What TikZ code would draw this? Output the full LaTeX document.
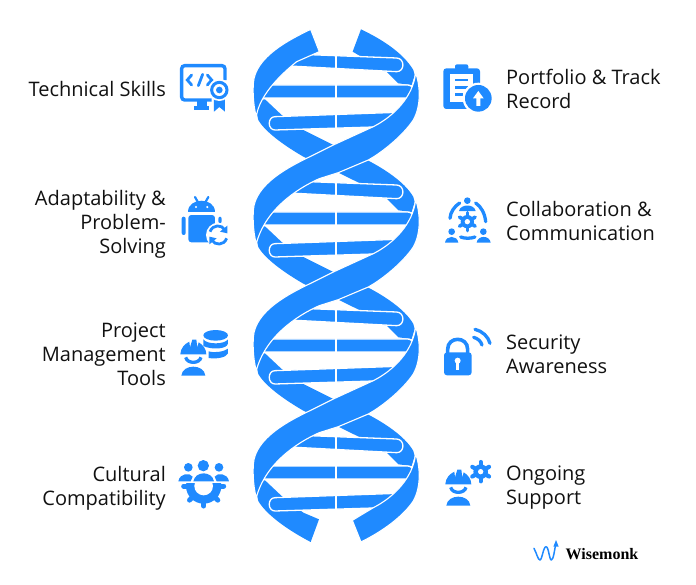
\documentclass[tikz,border=0pt]{standalone}
\usepackage{fontspec}
\usepackage{xcolor}
\setmainfont{Open Sans}
\newfontfamily\logofont{Liberation Serif}
\definecolor{dnablue}{RGB}{31, 138, 255}
\definecolor{labelblack}{RGB}{17, 17, 17}

% gear: centre x, centre y, body radius, tooth radius, tooth width, teeth, hole radius
\newcommand{\gearicon}[7]{
    \fill[dnablue] (#1,#2) circle[radius=#3];
    \foreach \a in {1,...,#6} {
        \draw[dnablue,line width=#5pt,line cap=round] (#1,#2) -- ({#1+#4*cos(90+360*\a/#6)},{#2+#4*sin(90+360*\a/#6)});
    }
    \fill[white] (#1,#2) circle[radius=#7];
}
% worker with helmet, same place in both icons
\newcommand{\workericon}{
    \fill[dnablue] (31,103) .. controls (31,85) and (45,71) .. (58,65) -- (60,82) -- (67,59) -- (79,59) -- (82,82) -- (86,67) .. controls (98,73) and (109,88) .. (109,103) -- cycle;
    \draw[dnablue,line width=3.3pt] (47,112) .. controls (52,132) and (88,132) .. (93,112);
    \fill[dnablue] (34,167) .. controls (37,131) and (103,131) .. (106,167) -- cycle;
}

\begin{document}
\begin{tikzpicture}[x=1pt,y=-1pt,
    lefttext/.style={anchor=east,align=right,inner sep=0pt,text=labelblack,font=\fontsize{20}{24}\selectfont},
    righttext/.style={anchor=west,align=left,inner sep=0pt,text=labelblack,font=\fontsize{20}{24}\selectfont},
    dnaunit/.style={x=0.3333pt,y=-0.3333pt},
    icon/.style={x=0.3333pt,y=-0.3333pt},
    backband/.style={fill=dnablue},
    frontband/.style={fill=dnablue,draw=white,line width=1.1pt,line join=round},
    rung/.style={fill=dnablue,draw=white,line width=1.3pt,line join=round},
    iconline/.style={dnablue,line width=3.3pt,line cap=round}]

    \useasboundingbox (0,0) rectangle (696,584);

    % Back strands
    \begin{scope}[shift={(240,20)},dnaunit]
        \fill[backband] (363,28) -- (338,95) -- (440,155) -- (475,190) -- (515,195) -- (524,165) -- (520,150) .. controls (490,100) and (430,60) .. (363,28) -- cycle;
    \end{scope}
    \foreach \k in {0,1,2} {
        \begin{scope}[shift={(240,20+127*\k)},dnaunit]
            \fill[backband] (60,240) -- (75,238) -- (125,285) -- (190,330) -- (280,375) -- (385,422) .. controls (450,456) and (500,495) .. (520,531) -- (524,546) -- (515,576) -- (475,571) -- (440,536) -- (360,490) -- (295,458) -- (190,410) .. controls (130,375) and (75,335) .. (55,300) -- (48,270) -- cycle;
        \end{scope}
    }
    \begin{scope}[shift={(240,401)},dnaunit]
        \fill[backband] (60,240) -- (75,238) -- (125,285) -- (190,335) -- (237,355) -- (212,423) .. controls (130,380) and (75,335) .. (55,300) -- (48,270) -- cycle;
    \end{scope}

    % Rungs
    \foreach \k in {0,1,2,3} {
        \begin{scope}[shift={(240,20+127*\k)},dnaunit]
            \draw[rung] (130,101) -- (470,114) .. controls (495,115) and (495,155) .. (470,155) -- (130,137) -- cycle;
            \draw[rung] (50,195) -- (503,195) .. controls (518,195) and (520,205) .. (518,234) -- (50,234) -- cycle;
            \draw[rung] (105,290) -- (500,276) -- (500,318) -- (105,330) .. controls (82,330) and (82,290) .. (105,290) -- cycle;
            \draw[white,line width=1.7pt] (288,100) -- (288,332);
        \end{scope}
    }

    % Front strands
    \begin{scope}[shift={(240,20)},dnaunit]
        \draw[frontband] (212,28) .. controls (150,58) and (45,110) .. (40,190) .. controls (38,230) and (42,265) .. (49,290) .. controls (55,245) and (90,190) .. (170,125) -- (238,95) -- cycle;
    \end{scope}
    \foreach \k in {0,1,2} {
        \begin{scope}[shift={(240,20+127*\k)},dnaunit]
            \draw[frontband] (527,158) .. controls (540,195) and (545,255) .. (520,300) .. controls (490,345) and (430,395) .. (385,420) -- (295,458) -- (238,476) .. controls (170,506) and (75,570) .. (49,671) .. controls (42,646) and (38,611) .. (40,571) .. controls (45,491) and (150,439) .. (212,409) -- (280,375) -- (400,320) .. controls (460,290) and (520,230) .. (527,158) -- cycle;
        \end{scope}
    }
    \begin{scope}[shift={(240,401)},dnaunit]
        \draw[frontband] (527,158) .. controls (540,195) and (545,255) .. (520,300) .. controls (490,345) and (430,390) .. (363,423) -- (337,358) -- (400,320) .. controls (460,290) and (520,230) .. (527,158) -- cycle;
    \end{scope}

    % Left labels
    \node[lefttext] (technical) at (166,89) {Technical Skills};
    \node[lefttext] (adaptability) at (166,224) {Adaptability \&\\Problem-\\Solving};
    \node[lefttext] (project) at (166,354) {Project\\Management\\Tools};
    \node[lefttext] (cultural) at (166,488) {Cultural\\Compatibility};

    % Right labels
    \node[righttext] (portfolio) at (506,89) {Portfolio \& Track\\Record};
    \node[righttext] (collaboration) at (506,221) {Collaboration \&\\Communication};
    \node[righttext] (security) at (506,354) {Security\\Awareness};
    \node[righttext] (ongoing) at (506,488) {Ongoing\\Support};

    % Monitor icon
    \begin{scope}[shift={(170,55)},icon]
        \draw[dnablue,line width=3.4pt,rounded corners=3pt] (165,75) -- (165,32) -- (35,32) -- (35,135) -- (125,135);
        \fill[dnablue] (80,135) rectangle (110,155);
        \fill[dnablue] (72,152) rectangle (118,166);
        \draw[iconline,line width=2.8pt] (65,60) -- (52,75) -- (65,90);
        \draw[iconline,line width=2.8pt] (85,92) -- (98,58);
        \draw[iconline,line width=2.8pt] (112,60) -- (125,75) -- (112,90);
        \fill[dnablue] (132,125) -- (132,170) -- (148,156) -- (165,170) -- (165,125) -- cycle;
        \fill[white] (148,105) circle[radius=33];
        \draw[dnablue,line width=3pt] (148,105) circle[radius=23];
        \fill[dnablue] (148,105) circle[radius=10];
    \end{scope}

    % Clipboard icon
    \begin{scope}[shift={(435,55)},icon]
        \fill[dnablue,rounded corners=3pt] (25,40) rectangle (135,162);
        \fill[dnablue,rounded corners=2pt] (60,28) rectangle (100,45);
        \fill[white] (46,58) rectangle (114,142);
        \draw[iconline,line width=2.8pt,line cap=butt] (60,75) -- (100,75);
        \draw[iconline,line width=2.8pt,line cap=butt] (60,97) -- (100,97);
        \draw[iconline,line width=2.8pt,line cap=butt] (60,119) -- (85,119);
        \fill[white] (130,130) circle[radius=47];
        \fill[dnablue] (130,130) circle[radius=40];
        \fill[white] (130,108) -- (114,130) -- (124,130) -- (124,153) -- (136,153) -- (136,130) -- (146,130) -- cycle;
    \end{scope}

    % Android icon
    \begin{scope}[shift={(170,185)},icon]
        \fill[dnablue] (55,80) .. controls (55,35) and (135,35) .. (135,80) -- cycle;
        \fill[white] (78,66) circle[radius=3.5];
        \fill[white] (112,66) circle[radius=3.5];
        \draw[iconline,line width=2.2pt] (75,36) -- (84,52);
        \draw[iconline,line width=2.2pt] (115,36) -- (106,52);
        \fill[dnablue,rounded corners=3pt] (55,90) rectangle (135,172);
        \fill[dnablue,rounded corners=2pt] (35,95) rectangle (47,150);
        \fill[dnablue,rounded corners=2pt] (145,95) rectangle (155,115);
        \fill[white] (145,150) circle[radius=37];
        \draw[iconline,line width=2.8pt,line cap=butt] (120,140) .. controls (128,118) and (155,118) .. (165,135);
        \fill[dnablue] (172,122) -- (172,145) -- (150,140) -- cycle;
        \draw[iconline,line width=2.8pt,line cap=butt] (170,160) .. controls (162,182) and (135,182) .. (125,165);
        \fill[dnablue] (118,178) -- (118,155) -- (140,160) -- cycle;
    \end{scope}

    % Team and gear icon
    \begin{scope}[shift={(435,185)},icon]
        \fill[dnablue] (97,47) circle[radius=10];
        \fill[dnablue] (72,78) .. controls (76,56) and (118,56) .. (122,78) -- cycle;
        \draw[iconline] (45,100) .. controls (46,82) and (58,64) .. (74,54);
        \draw[iconline] (122,54) .. controls (138,64) and (150,86) .. (152,110);
        \draw[iconline] (77,156) .. controls (90,161) and (107,161) .. (120,156);
        \gearicon{97}{110}{20}{27}{3.6}{6}{8}
        \fill[dnablue] (50,140) circle[radius=10];
        \fill[dnablue] (30,173) .. controls (33,150) and (67,150) .. (70,173) -- cycle;
        \fill[dnablue] (145,140) circle[radius=10];
        \fill[dnablue] (125,173) .. controls (128,150) and (164,150) .. (167,173) -- cycle;
    \end{scope}

    % Worker and database icon
    \begin{scope}[shift={(170,320)},icon]
        \fill[dnablue] (137,46) ellipse[x radius=37,y radius=16];
        \fill[dnablue] (100,58) .. controls (110,74) and (164,74) .. (174,58) -- (174,70) .. controls (172,88) and (125,90) .. (100,78) -- cycle;
        \fill[dnablue] (116,94) .. controls (135,100) and (164,94) .. (174,86) -- (174,100) .. controls (170,112) and (140,118) .. (116,114) -- cycle;
        \workericon
    \end{scope}

    % Lock icon
    \begin{scope}[shift={(435,320)},icon]
        \draw[dnablue,line width=3.6pt] (38,100) -- (38,88) .. controls (38,48) and (98,48) .. (98,88) -- (98,100);
        \fill[dnablue,rounded corners=3pt] (27,97) rectangle (110,166);
        \fill[white] (68,122) circle[radius=9];
        \fill[white] (64,122) rectangle (72,150);
        \draw[iconline] (120,28) .. controls (142,33) and (160,50) .. (165,70);
        \draw[iconline] (116,52) .. controls (128,55) and (138,64) .. (141,75);
    \end{scope}

    % People and gear icon
    \begin{scope}[shift={(170,450)},icon]
        \fill[dnablue] (100,47) circle[radius=17];
        \fill[dnablue] (55,52) circle[radius=13];
        \fill[dnablue] (147,52) circle[radius=13];
        \fill[dnablue] (25,94) .. controls (30,68) and (60,68) .. (68,80) -- (62,94) -- cycle;
        \fill[dnablue] (177,94) .. controls (172,68) and (142,68) .. (134,80) -- (140,94) -- cycle;
        \fill[dnablue] (70,94) .. controls (76,62) and (126,62) .. (132,94) -- cycle;
        \begin{scope}
            \clip (30,100) rectangle (175,180);
            \gearicon{101}{108}{53}{60}{5}{8}{28}
        \end{scope}
    \end{scope}

    % Worker and gear icon
    \begin{scope}[shift={(435,450)},icon]
        \gearicon{137}{65}{22}{29}{4.2}{6}{8}
        \workericon
    \end{scope}

    % Wisemonk logo
    \begin{scope}[shift={(520,530)},icon]
        \draw[dnablue,line width=1.5pt,line cap=round,line join=round] (42,55) .. controls (50,70) and (54,90) .. (60,90) .. controls (66,90) and (70,50) .. (78,50) .. controls (86,50) and (88,90) .. (94,90) .. controls (100,90) and (104,60) .. (107,42);
        \fill[dnablue] (108,30) -- (100,50) -- (116,50) -- cycle;
    \end{scope}
    \node[anchor=west,inner sep=0pt,font=\logofont\bfseries\fontsize{16}{18}\selectfont] (wisemonk) at (565.5,554) {Wisemonk};
\end{tikzpicture}
\end{document}
